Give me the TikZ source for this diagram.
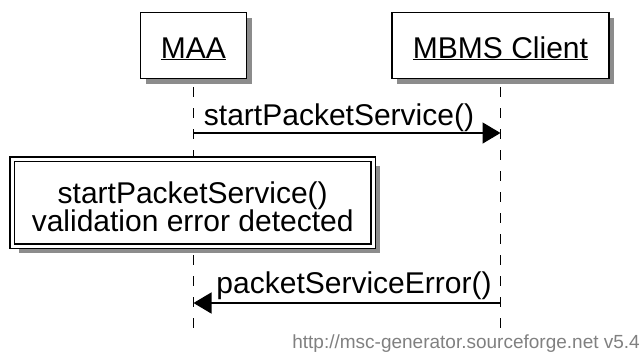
\documentclass[tikz,border=0pt]{standalone}
\usepackage{fontspec}
\setmainfont{Liberation Sans}
\usepackage{tikz}
\usetikzlibrary{calc}
\usetikzlibrary{shadows,arrows.meta}

\begin{document}
\begin{tikzpicture}[x=1pt,y=-1pt]
			\tikzstyle{every node}=[font=\fontsize{30}{28}\selectfont, inner sep=0pt]
			\tikzstyle{entity}=[draw, line width=1.5pt, fill=white, minimum height=66pt, text height=25pt, text depth=0pt, drop shadow={shadow xshift=5pt, shadow yshift=-5pt, fill=black!45, opacity=1}]
			\tikzstyle{notebox}=[draw, line width=1.5pt, double=white, double distance=3pt, fill=white, align=center, minimum width=360.7pt, minimum height=87pt, drop shadow={shadow xshift=7pt, shadow yshift=-7pt, fill=black!45, opacity=1}]
			\tikzstyle{lifeline}=[line width=1.5pt, dash pattern=on 10pt off 11pt, dash phase=13pt]
			\tikzstyle{msg}=[line width=1.5pt, -{Triangle[length=18pt,width=21pt]}]
			
			\useasboundingbox (0,0) rectangle (644,354);
			
			\node[entity, minimum width=106pt] (maa) at (193.5,45.5) {\underline{MAA}};
			\node[entity, minimum width=217pt] (client) at (500.5,45.5) {\underline{MBMS Client}};
			
			\coordinate (maaend) at (maa |- 0,328);
			\coordinate (clientend) at (client |- 0,328);
			\draw[lifeline] (maa.south) -- (maaend);
			\draw[lifeline] (client.south) -- (clientend);
			
			\coordinate (m1a) at (maa |- 0,133);
			\coordinate (m1b) at (client |- 0,133);
			\draw[msg] (m1a) -- (m1b) node[midway, anchor=base, xshift=-8pt, yshift=7.5pt] (m1label) {startPacketService()};
			
			\node[notebox] (note) at (192.7,202.5) {\rule{0pt}{31pt}startPacketService()\\validation error detected};
			
			\coordinate (m2a) at (client |- 0,303);
			\coordinate (m2b) at (maa |- 0,303);
			\draw[msg] (m2a) -- (m2b) node[midway, anchor=base, xshift=7pt, yshift=10pt] (m2label) {packetServiceError()};
			
			\node[anchor=base east, font=\fontsize{19}{22}\selectfont, text=black!50] (credit) at (640,348) {http://msc-generator.sourceforge.net v5.4};
\end{tikzpicture}
\end{document}
